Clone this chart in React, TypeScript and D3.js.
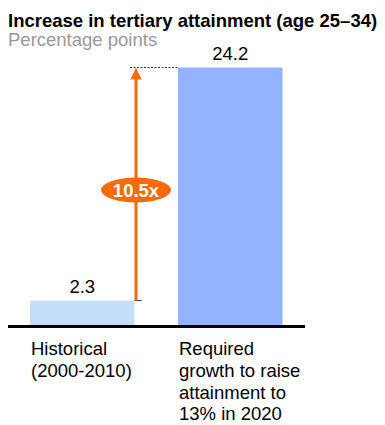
import React from "react";
import * as d3 from "d3";

const categories = ["Historical", "Required"];
const categoryLines = [["Historical", "(2000-2010)"], ["Required", "growth to raise", "attainment to", "13% in 2020"]];
const values = [2.3, 24.2];
const valueLabels = ["2.3", "24.2"];
const barColors = ["#c6dff8", "#94b3ff"];
const title = "Increase in tertiary attainment (age 25–34)";
const subtitle = "Percentage points";
const multiplierLabel = "10.5x";

const W = 385;
const H = 425;
const FONT = "'Liberation Sans', Arial, sans-serif";
const FS = 18.5;
const ORANGE = "#fa6a0a";

export default function App() {
  const x = d3.scaleBand<string>().domain(categories).range([30, 282.5]).paddingInner(0.294).paddingOuter(0);
  const y = d3.scaleLinear().domain([0, 24.2]).range([325, 67.5]);

  const x0 = x(categories[0])!;
  const x1 = x(categories[1])!;
  const bw = x.bandwidth();
  const arrowX = x0 + bw + 1.5;
  const yTop = y(values[1]);
  const yBot = y(values[0]);
  const ellY = 190;

  return (
    <svg width={W} height={H} style={{ position: "absolute", left: 0, top: 0 }} fontFamily={FONT}>
      <text x={8} y={27} fontSize={FS} fontWeight="bold" fill="#000">{title}</text>
      <text x={8} y={46} fontSize={FS} fill="#999">{subtitle}</text>

      {categories.map((c, i) => (
        <rect key={c} x={x(c)} y={y(values[i])} width={bw} height={y(0) - y(values[i])} fill={barColors[i]} />
      ))}
      {categories.map((c, i) => (
        <text key={c + "v"} x={x(c)! + bw / 2} y={y(values[i]) - 8} fontSize={FS} textAnchor="middle" fill="#000">
          {valueLabels[i]}
        </text>
      ))}

      <line x1={8} x2={305} y1={y(0) + 1.5} y2={y(0) + 1.5} stroke="#000" strokeWidth={3} />

      {/* dashed reference lines */}
      <line x1={130} x2={x1} y1={yTop} y2={yTop} stroke="#333" strokeWidth={1} strokeDasharray="2,1.5" />
      <line x1={arrowX - 1.5} x2={arrowX + 5.5} y1={yBot} y2={yBot} stroke="#333" strokeWidth={1} />

      {/* arrow */}
      <line x1={arrowX} x2={arrowX} y1={yBot} y2={yTop + 10} stroke={ORANGE} strokeWidth={3} />
      <path d={`M${arrowX},${yTop} L${arrowX + 5.5},${yTop + 12} L${arrowX - 5.5},${yTop + 12} Z`} fill={ORANGE} />
      <ellipse cx={arrowX} cy={ellY} rx={35} ry={12.5} fill={ORANGE} />
      <text x={arrowX} y={ellY + 6.5} fontSize={18.5} fontWeight="bold" textAnchor="middle" fill="#fff">{multiplierLabel}</text>

      {categories.map((c, i) => (
        <text key={c + "l"} x={x(c)! + 1} fontSize={FS} fill="#000">
          {categoryLines[i].map((ln, j) => (
            <tspan key={j} x={x(c)! + 1} y={355 + j * 21.8}>{ln}</tspan>
          ))}
        </text>
      ))}
    </svg>
  );
}
